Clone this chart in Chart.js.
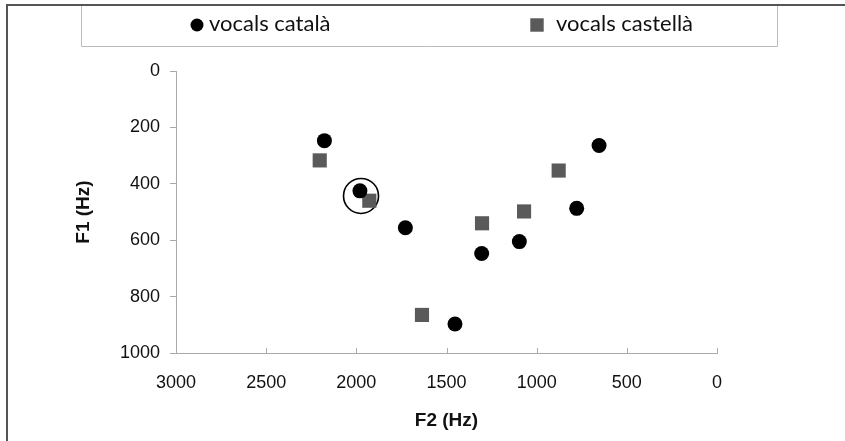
<!DOCTYPE html>
<html>
<head>
<meta charset="utf-8">
<script src="https://cdn.jsdelivr.net/npm/chart.js@4"></script>
<style>
  body { margin: 0; background: #fff; }
</style>
</head>
<body>
<canvas id="chart_formants" width="845" height="441"></canvas>
<script>
// F2 (Hz) and F1 (Hz)
var catalaF2 = [2177, 1980, 1728, 1453, 1305, 1096, 778, 654];
var catalaF1 = [247, 425, 556, 897, 647, 605, 487, 264];
var castellaF2 = [2203, 1928, 1636, 1303, 1070, 878];
var castellaF1 = [317, 460, 865, 540, 498, 353];
// the ringed pair
var ringF2 = [1974];
var ringF1 = [443];

var xTicks = [0, 500, 1000, 1500, 2000, 2500, 3000];
var yTicks = [0, 200, 400, 600, 800, 1000];
var seriesLabels = ['vocals català', 'vocals castellà'];

function points(xs, ys) {
    var out = [];
    for (var i = 0; i < xs.length; i++) out.push({x: xs[i], y: ys[i]});
    return out;
}

// frame, legend box and inner x tick marks
var decor = {
    id: 'decor',
    afterDraw: function (chart) {
        var ctx = chart.ctx;
        ctx.save();
        // outer frame (top + left)
        ctx.strokeStyle = '#555';
        ctx.lineWidth = 2;
        ctx.beginPath();
        ctx.moveTo(6, 5); ctx.lineTo(845, 5);
        ctx.moveTo(7, 5); ctx.lineTo(7, 441);
        ctx.stroke();
        // legend box
        ctx.strokeStyle = '#bbb';
        ctx.lineWidth = 1;
        ctx.beginPath();
        ctx.moveTo(81.5, 6); ctx.lineTo(81.5, 46.5); ctx.lineTo(777.5, 46.5); ctx.lineTo(777.5, 6);
        ctx.stroke();
        // legend items
        var ds = chart.data.datasets;
        var itemX = [197, 537];
        ctx.font = '22px Lato, "Open Sans", sans-serif';
        ctx.textBaseline = 'middle';
        for (var i = 0; i < 2; i++) {
            var r = ds[i].pointStyle === 'rect' ? 9.5 : 6.5;
            ctx.fillStyle = ds[i].backgroundColor;
            Chart.helpers.drawPoint(ctx, {pointStyle: ds[i].pointStyle, radius: r, borderWidth: 0}, itemX[i], 25);
            ctx.fillStyle = '#111';
            ctx.fillText(ds[i].label, itemX[i] + (i === 0 ? 12 : 19), 24);
        }
        // x tick marks drawn inward
        var xs = chart.scales.x;
        ctx.strokeStyle = '#aaa';
        ctx.beginPath();
        xs.ticks.forEach(function (t) {
            var px = Math.round(xs.getPixelForValue(t.value)) + 0.5;
            ctx.moveTo(px, xs.top); ctx.lineTo(px, xs.top - 5);
        });
        ctx.stroke();
        ctx.restore();
    }
};

function plain(v) { return String(v); }

var ctx = document.getElementById('chart_formants').getContext('2d');
var formantChart = new Chart(ctx, {
    type: 'scatter',
    data: {
        datasets: [{
            label: seriesLabels[0],
            data: points(catalaF2, catalaF1),
            pointStyle: 'circle',
            pointRadius: 7.5,
            pointHoverRadius: 7.5,
            backgroundColor: '#000',
            borderWidth: 0
        }, {
            label: seriesLabels[1],
            data: points(castellaF2, castellaF1),
            pointStyle: 'rect',
            pointRadius: 10,
            pointHoverRadius: 10,
            backgroundColor: '#5a5a5a',
            borderWidth: 0
        }, {
            label: '',
            data: points(ringF2, ringF1),
            pointStyle: 'circle',
            pointRadius: 17.5,
            backgroundColor: 'rgba(0,0,0,0)',
            borderColor: '#000',
            borderWidth: 1.6
        }]
    },
    options: {
        responsive: false,
        animation: false,
        devicePixelRatio: 1,
        layout: {padding: {left: 0, right: 128, top: 71, bottom: 0}},
        plugins: {
            legend: {display: false},
            tooltip: {enabled: false}
        },
        scales: {
            x: {
                type: 'linear',
                reverse: true,
                min: 0,
                max: 3000,
                afterBuildTicks: function (s) { s.ticks = xTicks.map(function (v) { return {value: v}; }); },
                afterFit: function (s) { s.height = 88; },
                grid: {display: true, drawOnChartArea: false, drawTicks: false, color: '#aaa'},
                border: {color: '#aaa'},
                ticks: {padding: 19, color: '#111', callback: plain,
                        font: {family: '"Liberation Sans", Arial', size: 18}},
                title: {display: true, text: 'F2 (Hz)', color: '#111', padding: {top: 0, bottom: 9},
                        font: {family: '"Liberation Sans", Arial', size: 19, weight: 'bold'}}
            },
            y: {
                type: 'linear',
                reverse: true,
                min: 0,
                max: 1000,
                afterBuildTicks: function (s) { s.ticks = yTicks.map(function (v) { return {value: v}; }); },
                afterFit: function (s) { s.width = 176; },
                grid: {display: true, drawOnChartArea: false, tickLength: 6, color: '#aaa'},
                border: {color: '#aaa'},
                ticks: {padding: 10, color: '#111', callback: plain,
                        font: {family: '"Liberation Sans", Arial', size: 18}},
                title: {display: true, text: 'F1 (Hz)', color: '#111', padding: {top: 72, bottom: 0},
                        font: {family: '"Liberation Sans", Arial', size: 19, weight: 'bold'}}
            }
        }
    },
    plugins: [decor]
});
</script>
</body>
</html>
